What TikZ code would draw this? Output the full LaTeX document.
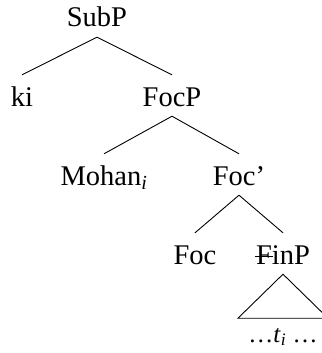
\documentclass[tikz,border=0pt]{standalone}
\usepackage{fontspec}
\setmainfont{Liberation Serif}
\newcommand\struckF{\makebox[0pt][l]{\hspace{-0.04em}\rule[0.26em]{0.62em}{0.9pt}}F}
\begin{document}
\begin{tikzpicture}[x=1pt,y=-1pt,
  lbl/.style={anchor=base,inner xsep=0pt,inner ysep=9pt,text height=22pt,text depth=1pt,
    font=\fontsize{28.5}{33}\selectfont},
  br/.style={line width=0.9pt}]
\useasboundingbox (0,0) rectangle (321,353);
\node[lbl] (subp) at (97,27) {SubP};
\node[lbl] (ki) at (22,106) {ki};
\node[lbl] (focp) at (172,106) {FocP};
\node[lbl] (mohan) at (104,185) {Mohan\textsubscript{\textit{i}}};
\node[lbl] (focbar) at (239,185) {Foc’};
\node[lbl] (foc) at (195,264) {Foc};
\node[lbl] (finp) at (283,264) {\struckF inP};
\node[lbl,font=\fontsize{25}{30}\selectfont] (trace) at (283,342) {…\textit{t}\textsubscript{\textit{i}} …};
\draw[br] (subp.south) -- (ki.north);
\draw[br] (subp.south) -- (focp.north);
\draw[br] (focp.south) -- (mohan.north);
\draw[br] (focp.south) -- (focbar.north);
\draw[br] (focbar.south) -- (foc.north);
\draw[br] (focbar.south) -- (finp.north);
\draw[br] (finp.south) -- ++(-45,44) -- ++(90,0) -- cycle;
\end{tikzpicture}
\end{document}
